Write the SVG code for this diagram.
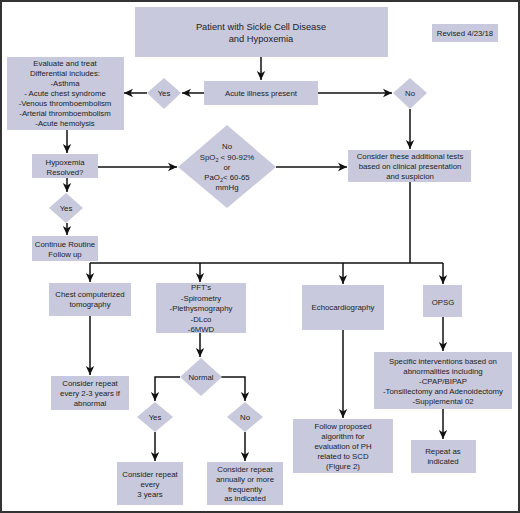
<svg xmlns="http://www.w3.org/2000/svg" width="520" height="513" viewBox="0 0 520 513">
<defs>
<marker id="ah" markerWidth="10" markerHeight="10" refX="9" refY="5" orient="auto" markerUnits="userSpaceOnUse">
<path d="M0,0.8 L9,5 L0,9.2 L2.5,5 Z" fill="#111"/>
</marker>
</defs>
<style>
.b{fill:#c8c9dc}
.t{font-family:"Liberation Sans",Arial,sans-serif;font-size:7.8px;fill:#222;text-anchor:middle}
.tt{font-family:"Liberation Sans",Arial,sans-serif;font-size:9.3px;fill:#222;text-anchor:middle}
.c{stroke:#111;stroke-width:1.5;fill:none}
.a{marker-end:url(#ah)}
</style>
<rect x="1" y="1" width="518" height="511" fill="#fff" stroke="#333" stroke-width="2"/>

<g id="connectors">
<path class="c a" d="M261,57 V80"/>
<path class="c a" d="M204,93 H182"/>
<path class="c a" d="M147,93 H124"/>
<path class="c a" d="M318,93 H392"/>
<path class="c a" d="M410,109 V149"/>
<path class="c a" d="M67,130 V153"/>
<path class="c a" d="M98,167 H177"/>
<path class="c a" d="M276,167 H347"/>
<path class="c a" d="M67,178 V192"/>
<path class="c a" d="M67,223 V235"/>
<path class="c" d="M410,182 V263 M90,263 H443"/>
<path class="c a" d="M90,263 V282"/>
<path class="c a" d="M200,263 V282"/>
<path class="c a" d="M343,263 V284"/>
<path class="c a" d="M443,263 V284"/>
<path class="c a" d="M90,316 V375"/>
<path class="c a" d="M200,333 V357"/>
<path class="c a" d="M180,377 H155 V401"/>
<path class="c a" d="M221,377 H245 V401"/>
<path class="c a" d="M155,432 V461"/>
<path class="c a" d="M245,432 V461"/>
<path class="c a" d="M343,330 V418"/>
<path class="c a" d="M443,317 V351"/>
<path class="c a" d="M443,409 V439"/>
</g>

<g id="title"><rect class="b" x="135" y="7" width="253" height="50"/>
<text class="tt" x="261" y="30">Patient with Sickle Cell Disease</text>
<text class="tt" x="261" y="42">and Hypoxemia</text></g>

<g id="revised"><rect class="b" x="432" y="24" width="66" height="18"/>
<text class="t" x="465" y="36">Revised 4/23/18</text></g>

<g id="acute"><rect class="b" x="204" y="81" width="114" height="24"/>
<text class="t" x="261" y="96">Acute illness present</text></g>

<g id="yes1"><polygon class="b" points="164,78 181,93 164,109 147,93"/>
<text class="t" x="164" y="96">Yes</text></g>

<g id="no1"><polygon class="b" points="410,78 427,93 410,109 393,93"/>
<text class="t" x="410" y="96">No</text></g>

<g id="evaluate"><rect class="b" x="7" y="57" width="117" height="73"/>
<text class="t" x="65" y="66">Evaluate and treat</text>
<text class="t" x="65" y="76">Differential includes:</text>
<text class="t" x="65" y="86">-Asthma</text>
<text class="t" x="65" y="96">- Acute chest syndrome</text>
<text class="t" x="65" y="106">-Venous thromboembolism</text>
<text class="t" x="65" y="116">-Arterial thromboembolism</text>
<text class="t" x="65" y="126">-Acute hemolysis</text></g>

<g id="hypoxemia"><rect class="b" x="32" y="154" width="66" height="24"/>
<text class="t" x="65" y="165">Hypoxemia</text>
<text class="t" x="65" y="175">Resolved?</text></g>

<g id="spo2"><polygon class="b" points="227,125 276,167 227,208 178,167"/>
<text class="t" x="227" y="149">No</text>
<text class="t" x="227" y="160">SpO<tspan font-size="5.5" dy="2">2</tspan><tspan dy="-2"> &lt; 90-92%</tspan></text>
<text class="t" x="227" y="170">or</text>
<text class="t" x="227" y="180">PaO<tspan font-size="5.5" dy="2">2</tspan><tspan dy="-2">&lt; 60-65</tspan></text>
<text class="t" x="227" y="190">mmHg</text></g>

<g id="consider"><rect class="b" x="348" y="150" width="123" height="32"/>
<text class="t" x="410" y="159">Consider these additional tests</text>
<text class="t" x="410" y="169">based on clinical presentation</text>
<text class="t" x="410" y="179">and suspicion</text></g>

<g id="yes2"><polygon class="b" points="66,193 83,208 66,223 49,208"/>
<text class="t" x="66" y="211">Yes</text></g>

<g id="continue"><rect class="b" x="32" y="236" width="66" height="25"/>
<text class="t" x="65" y="247">Continue Routine</text>
<text class="t" x="65" y="257">Follow up</text></g>

<g id="chestct"><rect class="b" x="49" y="283" width="82" height="33"/>
<text class="t" x="90" y="297">Chest computerized</text>
<text class="t" x="90" y="307">tomography</text></g>

<g id="pft"><rect class="b" x="156" y="283" width="90" height="50"/>
<text class="t" x="201" y="290">PFT's</text>
<text class="t" x="201" y="301">-Spirometry</text>
<text class="t" x="201" y="311">-Plethysmography</text>
<text class="t" x="201" y="322">-DLco</text>
<text class="t" x="201" y="332">-6MWD</text></g>

<g id="echo"><rect class="b" x="302" y="285" width="82" height="45"/>
<text class="t" x="343" y="310">Echocardiography</text></g>

<g id="opsg"><rect class="b" x="423" y="285" width="39" height="32"/>
<text class="t" x="443" y="305">OPSG</text></g>

<g id="repeat23"><rect class="b" x="51" y="376" width="78" height="34"/>
<text class="t" x="90" y="386">Consider repeat</text>
<text class="t" x="90" y="396">every 2-3 years if</text>
<text class="t" x="90" y="406">abnormal</text></g>

<g id="normal"><polygon class="b" points="201,358 222,377 201,396 180,377"/>
<text class="t" x="201" y="380">Normal</text></g>

<g id="yes3"><polygon class="b" points="155,402 173,417 155,432 137,417"/>
<text class="t" x="155" y="420">Yes</text></g>

<g id="no3"><polygon class="b" points="245,402 263,417 245,432 227,417"/>
<text class="t" x="245" y="420">No</text></g>

<g id="repeat3"><rect class="b" x="117" y="462" width="66" height="43"/>
<text class="t" x="150" y="477">Consider repeat</text>
<text class="t" x="150" y="487">every</text>
<text class="t" x="150" y="497">3 years</text></g>

<g id="repeatannual"><rect class="b" x="207" y="462" width="76" height="43"/>
<text class="t" x="245" y="472">Consider repeat</text>
<text class="t" x="245" y="482">annually or more</text>
<text class="t" x="245" y="492">frequently</text>
<text class="t" x="245" y="501">as indicated</text></g>

<g id="follow"><rect class="b" x="293" y="419" width="100" height="54"/>
<text class="t" x="343" y="429">Follow proposed</text>
<text class="t" x="343" y="439">algorithm for</text>
<text class="t" x="343" y="449">evaluation of PH</text>
<text class="t" x="343" y="459">related to SCD</text>
<text class="t" x="343" y="469">(Figure 2)</text></g>

<g id="specific"><rect class="b" x="374" y="352" width="138" height="57"/>
<text class="t" x="443" y="364">Specific interventions based on</text>
<text class="t" x="443" y="374">abnormalities including</text>
<text class="t" x="443" y="384">-CPAP/BIPAP</text>
<text class="t" x="443" y="394">-Tonsillectomy and Adenoidectomy</text>
<text class="t" x="443" y="404">-Supplemental 02</text></g>

<g id="repeatas"><rect class="b" x="411" y="440" width="65" height="33"/>
<text class="t" x="443" y="454">Repeat as</text>
<text class="t" x="443" y="464">indicated</text></g>
</svg>
